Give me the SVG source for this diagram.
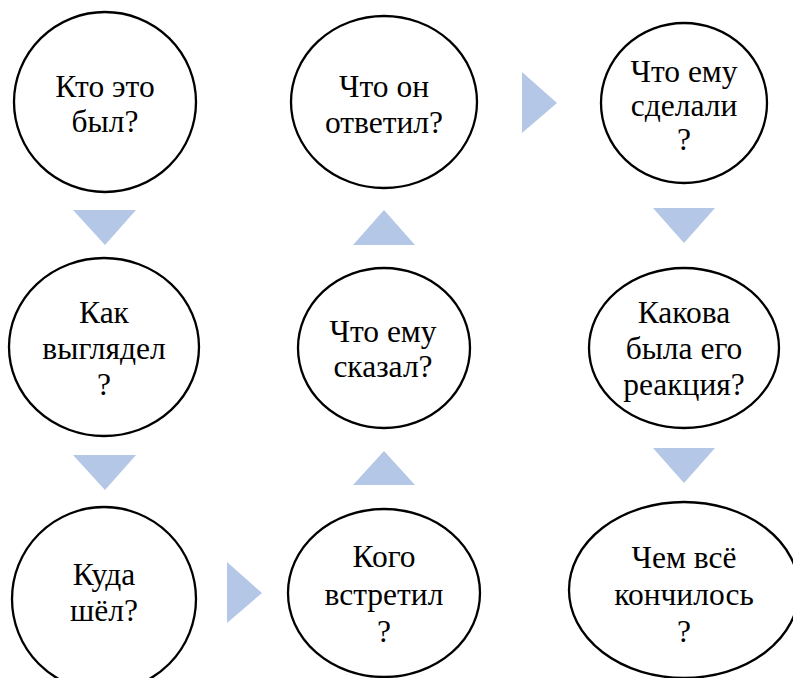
<svg xmlns="http://www.w3.org/2000/svg" width="793" height="678" viewBox="0 0 793 678">
<style>
.n{fill:#fff;stroke:#000;stroke-width:2.3}
.t{font-size:31.5px;fill:#000;text-anchor:middle}
.a{fill:#b4c7e7}
</style>
<rect width="793" height="678" fill="#fff"/>
<g id="connectors">
<polygon class="a" points="73,210 136,210 105,245"/>
<polygon class="a" points="73,455 136,455 105,490"/>
<polygon class="a" points="227,562 227,623 262,593"/>
<polygon class="a" points="353,485 415,485 384,451"/>
<polygon class="a" points="353,245 415,245 384,210"/>
<polygon class="a" points="522,72 522,133 557,103"/>
<polygon class="a" points="653,208 715,208 684,243"/>
<polygon class="a" points="653,448 715,448 684,483"/>
</g>
<g id="nodes" font-family="Liberation Serif, Times New Roman, serif">
<g id="n1"><ellipse class="n" cx="105" cy="102" rx="91" ry="90"/><text class="t" x="105" y="97">Кто это</text><text class="t" x="105" y="132">был?</text></g>
<g id="n2"><ellipse class="n" cx="104" cy="347" rx="95" ry="89"/><text class="t" x="104" y="323">Как</text><text class="t" x="104" y="359">выглядел</text><text class="t" x="104" y="395">?</text></g>
<g id="n3"><ellipse class="n" cx="104" cy="599" rx="92" ry="92"/><text class="t" x="104" y="585">Куда</text><text class="t" x="104" y="621">шёл?</text></g>
<g id="n4"><ellipse class="n" cx="384" cy="593" rx="96" ry="84"/><text class="t" x="384" y="567">Кого</text><text class="t" x="384" y="605">встретил</text><text class="t" x="384" y="642">?</text></g>
<g id="n5"><ellipse class="n" cx="384" cy="348" rx="86" ry="80"/><text class="t" x="383" y="342">Что ему</text><text class="t" x="383" y="377">сказал?</text></g>
<g id="n6"><ellipse class="n" cx="384" cy="102" rx="93" ry="86"/><text class="t" x="384" y="97">Что он</text><text class="t" x="384" y="133">ответил?</text></g>
<g id="n7"><ellipse class="n" cx="684" cy="103" rx="83" ry="80"/><text class="t" x="684" y="82">Что ему</text><text class="t" x="684" y="116">сделали</text><text class="t" x="684" y="150">?</text></g>
<g id="n8"><ellipse class="n" cx="684" cy="348" rx="95" ry="80"/><text class="t" x="684" y="323">Какова</text><text class="t" x="684" y="359">была его</text><text class="t" x="684" y="395">реакция?</text></g>
<g id="n9"><ellipse class="n" cx="684" cy="590" rx="115" ry="88"/><text class="t" x="684" y="568">Чем всё</text><text class="t" x="684" y="605">кончилось</text><text class="t" x="684" y="642">?</text></g>
</g>
</svg>
